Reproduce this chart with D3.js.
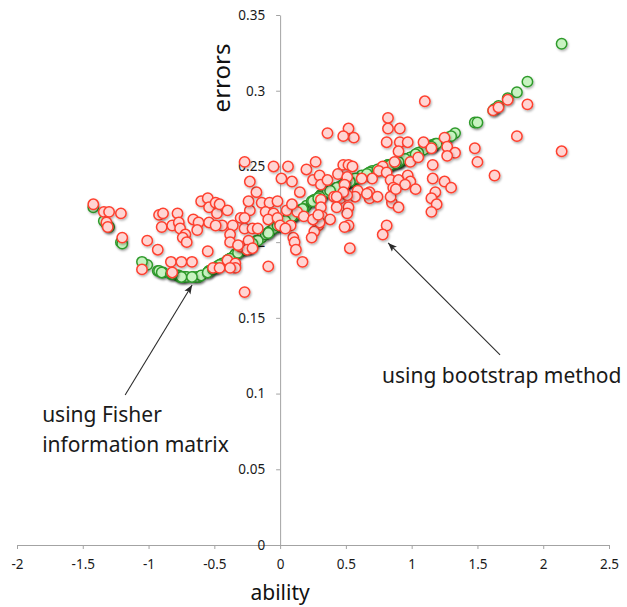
<!DOCTYPE html>
<html>
<head>
<meta charset="utf-8">
<script src="https://cdn.jsdelivr.net/npm/d3@7"></script>
<style>
  html, body { margin: 0; padding: 0; background: #fff; }
  svg { display: block; font-family: "Noto Sans", sans-serif; }
  .axis path, .axis line { stroke: #a3a3a3; stroke-width: 1; }
  .axis text { fill: #1a1a1a; font-size: 13.5px; font-family: "Noto Sans", sans-serif; }
  .note { fill: #1a1a1a; font-size: 21px; }
  .axis-title { fill: #111; }
</style>
</head>
<body>
<div id="chart"></div>
<script>
// tick values
var xTicks = [-2, -1.5, -1, -0.5, 0, 0.5, 1, 1.5, 2, 2.5];
var yTicks = [0, 0.05, 0.1, 0.15, 0.2, 0.25, 0.3, 0.35];

// one entry per item: estimated ability, error by Fisher information, error by bootstrap
var ability = [
    -1.42, -1.34, -1.30, -1.21, -1.32, -1.31, -1.20, -1.01, -0.93, -1.05,
    -0.92, -0.89, -0.90, -0.82, -0.78, -0.77, -0.76, -0.72, -0.74, -0.71,
    -0.66, -0.62, -0.63, -0.60, -0.55, -0.54, -0.54, -0.55, -0.83, -0.75,
    -0.67, -0.82, -0.51, -0.49, -0.48, -0.46, -0.40, -0.30, -0.23, -0.24,
    -0.18, -0.23, -0.27, -0.05, 0.06, 0.01, 0.09, 0.15, 0.20, 0.27,
    0.25, 0.30, 0.31, 0.36, 0.44, 0.48, 0.41, 0.46, -0.14, -0.08,
    -0.02, -0.11, -0.05, 0.05, 0.13, 0.18, 0.31, 0.31, 0.32, 0.29,
    0.26, 0.24, -0.09, -0.02, 0.00, 0.08, 0.10, 0.11, 0.12, 0.17,
    -0.44, -0.36, -0.27, -0.21, -0.17, -0.38, -0.38, -0.30, -0.24, -0.40,
    -0.34, -0.34, -0.46, -0.38, -0.09, -0.27, -0.25, -0.21, -0.32, -0.49,
    1.10, 0.82, 0.82, 0.91, 0.52, 0.56, 0.48, 0.36, 0.81, 0.91,
    0.97, 1.09, 0.90, 0.87, 0.99, 1.05, 1.15, 1.25, 1.27, 1.33,
    1.27, 1.16, 0.78, 0.75, 0.81, 0.70, 0.62, 0.52, 0.55, 0.51,
    0.97, 0.84, 0.90, 0.99, 0.95, 1.03, 0.86, 1.16, 1.25, 1.30,
    1.18, 1.15, 1.19, 1.15, 0.68, 0.59, 0.57, 0.68, 0.51, 0.85,
    0.90, 0.52, 0.51, 0.52, 0.81, 0.78, 0.53, 0.49, 0.48, 0.43,
    0.43, 0.38, 0.30, 0.49, 0.66, 0.74, 0.84, 0.88, 1.48, 1.50,
    1.63, 1.80, 1.88, 1.62, 1.66, 1.73, 2.14, 0.09, 0.04, 0.25,
    0.29, -0.27
];
var fisherError = [
    0.223, 0.214, 0.210, 0.200, 0.212, 0.211, 0.199, 0.185, 0.181, 0.187,
    0.181, 0.180, 0.180, 0.179, 0.178, 0.178, 0.177, 0.177, 0.177, 0.177,
    0.177, 0.177, 0.177, 0.178, 0.180, 0.181, 0.181, 0.180, 0.179, 0.177,
    0.177, 0.179, 0.182, 0.183, 0.184, 0.185, 0.188, 0.194, 0.197, 0.196,
    0.201, 0.197, 0.196, 0.209, 0.215, 0.212, 0.217, 0.221, 0.224, 0.228,
    0.227, 0.230, 0.231, 0.233, 0.236, 0.238, 0.235, 0.237, 0.203, 0.207,
    0.210, 0.205, 0.209, 0.215, 0.219, 0.222, 0.231, 0.231, 0.231, 0.229,
    0.228, 0.227, 0.206, 0.211, 0.212, 0.216, 0.217, 0.218, 0.218, 0.222,
    0.186, 0.190, 0.196, 0.198, 0.201, 0.189, 0.189, 0.194, 0.196, 0.188,
    0.192, 0.192, 0.185, 0.189, 0.206, 0.196, 0.196, 0.199, 0.193, 0.183,
    0.262, 0.251, 0.251, 0.253, 0.240, 0.241, 0.238, 0.233, 0.250, 0.253,
    0.255, 0.261, 0.253, 0.252, 0.256, 0.259, 0.264, 0.268, 0.269, 0.272,
    0.269, 0.264, 0.249, 0.248, 0.250, 0.247, 0.244, 0.240, 0.241, 0.240,
    0.255, 0.251, 0.253, 0.256, 0.255, 0.258, 0.252, 0.264, 0.268, 0.270,
    0.265, 0.263, 0.265, 0.263, 0.246, 0.242, 0.242, 0.246, 0.240, 0.251,
    0.253, 0.240, 0.240, 0.240, 0.250, 0.249, 0.240, 0.239, 0.238, 0.236,
    0.236, 0.234, 0.230, 0.239, 0.245, 0.248, 0.251, 0.252, 0.279, 0.279,
    0.288, 0.299, 0.306, 0.287, 0.290, 0.295, 0.331, 0.217, 0.214, 0.227,
    0.229, 0.196
];
var bootstrapError = [
    0.225, 0.220, 0.220, 0.219, 0.213, 0.210, 0.203, 0.201, 0.195, 0.182,
    0.218, 0.219, 0.210, 0.211, 0.219, 0.213, 0.209, 0.205, 0.203, 0.200,
    0.215, 0.213, 0.208, 0.227, 0.229, 0.223, 0.213, 0.194, 0.187, 0.187,
    0.187, 0.180, 0.183, 0.226, 0.219, 0.225, 0.221, 0.216, 0.221, 0.227,
    0.233, 0.240, 0.253, 0.250, 0.250, 0.242, 0.240, 0.233, 0.248, 0.253,
    0.241, 0.244, 0.238, 0.241, 0.245, 0.251, 0.230, 0.229, 0.226, 0.226,
    0.227, 0.220, 0.219, 0.221, 0.220, 0.217, 0.228, 0.223, 0.217, 0.211,
    0.207, 0.203, 0.215, 0.216, 0.211, 0.211, 0.203, 0.200, 0.195, 0.187,
    0.211, 0.211, 0.209, 0.209, 0.209, 0.205, 0.200, 0.197, 0.201, 0.188,
    0.186, 0.183, 0.183, 0.183, 0.184, 0.167, 0.195, 0.196, 0.198, 0.211,
    0.293, 0.282, 0.275, 0.275, 0.275, 0.269, 0.270, 0.272, 0.266, 0.266,
    0.266, 0.266, 0.260, 0.253, 0.253, 0.256, 0.262, 0.269, 0.263, 0.259,
    0.257, 0.251, 0.250, 0.247, 0.246, 0.242, 0.242, 0.251, 0.250, 0.243,
    0.244, 0.241, 0.241, 0.240, 0.238, 0.235, 0.236, 0.242, 0.240, 0.236,
    0.233, 0.229, 0.225, 0.220, 0.233, 0.234, 0.230, 0.229, 0.231, 0.226,
    0.223, 0.223, 0.219, 0.211, 0.211, 0.205, 0.196, 0.238, 0.233, 0.230,
    0.223, 0.215, 0.213, 0.210, 0.232, 0.230, 0.230, 0.235, 0.262, 0.253,
    0.244, 0.270, 0.291, 0.287, 0.289, 0.294, 0.260, 0.225, 0.209, 0.215,
    0.218, 0.216
];

// annotation text and arrows, in data units
var notes = [
    {lines: ["using bootstrap method"], x: 0.775, y: 0.107, from: [1.672, 0.1255], to: [0.821, 0.1995]},
    {lines: ["using Fisher", "information matrix"], x: -1.809, y: 0.0812, from: [-1.178, 0.0991], to: [-0.669, 0.1717]}
];

var width = 627, height = 607;

var x = d3.scaleLinear().domain([-2, 2.5]).range([17, 609]);
var y = d3.scaleLinear().domain([0, 0.35]).range([545, 15]);

var svg = d3.select("#chart").append("svg")
    .attr("width", width)
    .attr("height", height);

var defs = svg.append("defs");
defs.append("filter")
    .attr("id", "shadow")
    .attr("x", "-50%").attr("y", "-50%")
    .attr("width", "200%").attr("height", "200%")
    .append("feDropShadow")
    .attr("dx", 1).attr("dy", 1.5)
    .attr("stdDeviation", 0.9)
    .attr("flood-color", "#000")
    .attr("flood-opacity", 0.3);

defs.append("marker")
    .attr("id", "arrow")
    .attr("markerUnits", "userSpaceOnUse")
    .attr("markerWidth", 10).attr("markerHeight", 8)
    .attr("refX", 9).attr("refY", 4)
    .attr("orient", "auto")
    .append("path")
    .attr("d", "M0,0.5 L9,4 L0,7.5 L2,4 Z")
    .attr("fill", "#2a2a2a");

// axes cross at the origin
var xAxis = d3.axisBottom(x)
    .tickValues(xTicks)
    .tickSize(4).tickSizeOuter(0).tickPadding(10)
    .tickFormat(function (d) { return String(d); });
var yAxis = d3.axisLeft(y)
    .tickValues(yTicks)
    .tickSize(4).tickSizeOuter(0).tickPadding(11)
    .tickFormat(function (d) { return String(d); });

svg.append("g")
    .attr("class", "axis x-axis")
    .attr("transform", "translate(0," + y(0) + ")")
    .call(xAxis);
svg.append("g")
    .attr("class", "axis y-axis")
    .attr("transform", "translate(" + x(0) + ",0)")
    .call(yAxis);

svg.append("text")
    .attr("class", "axis-title")
    .attr("x", x(0))
    .attr("y", 600)
    .attr("text-anchor", "middle")
    .style("font-size", "21px")
    .text("ability");

svg.append("text")
    .attr("class", "axis-title")
    .attr("transform", "translate(230,78) rotate(-90)")
    .attr("text-anchor", "middle")
    .style("font-size", "24px")
    .text("errors");

var items = ability.map(function (a, i) {
    return {ability: a, fisher: fisherError[i], boot: bootstrapError[i]};
});

// Fisher information errors underneath, bootstrap errors on top
svg.append("g")
    .attr("class", "fisher")
    .selectAll("circle")
    .data(items)
    .enter().append("circle")
    .attr("cx", function (d) { return x(d.ability); })
    .attr("cy", function (d) { return y(d.fisher); })
    .attr("r", 5.2)
    .attr("fill", "#c8f3c1")
    .attr("stroke", "#2f9b2c")
    .attr("stroke-width", 1.5)
    .attr("filter", "url(#shadow)");

svg.append("g")
    .attr("class", "bootstrap")
    .selectAll("circle")
    .data(items)
    .enter().append("circle")
    .attr("cx", function (d) { return x(d.ability); })
    .attr("cy", function (d) { return y(d.boot); })
    .attr("r", 5.2)
    .attr("fill", "#ffd5d3")
    .attr("stroke", "#ff3f2e")
    .attr("stroke-width", 1.5)
    .attr("filter", "url(#shadow)");

// annotations
notes.forEach(function (n) {
    svg.append("line")
        .attr("x1", x(n.from[0])).attr("y1", y(n.from[1]))
        .attr("x2", x(n.to[0])).attr("y2", y(n.to[1]))
        .attr("stroke", "#2a2a2a")
        .attr("stroke-width", 1.1)
        .attr("marker-end", "url(#arrow)");
    var t = svg.append("text")
        .attr("class", "note")
        .attr("x", x(n.x))
        .attr("y", y(n.y));
    n.lines.forEach(function (line, i) {
        t.append("tspan")
            .attr("x", x(n.x))
            .attr("dy", i === 0 ? 0 : 30)
            .text(line);
    });
});
</script>
</body>
</html>
